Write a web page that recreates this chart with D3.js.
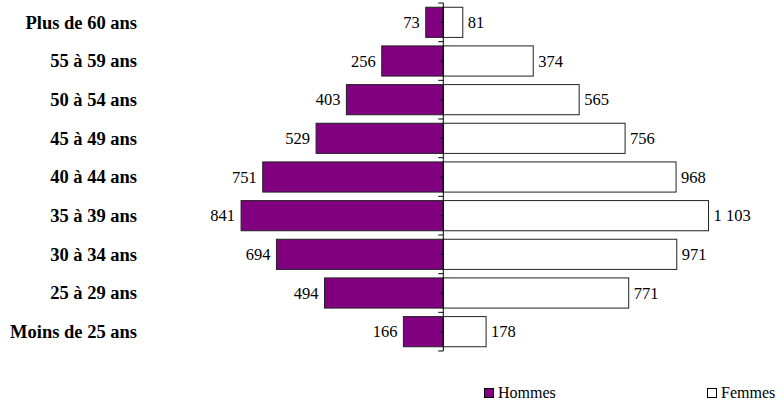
<!DOCTYPE html>
<html><head><meta charset="utf-8">
<script src="https://cdn.jsdelivr.net/npm/d3@7"></script>
<style>body{margin:0;background:#fff}svg{display:block}</style>
</head><body>
<script>
const categories = ["Plus de 60 ans","55 à 59 ans","50 à 54 ans","45 à 49 ans","40 à 44 ans","35 à 39 ans","30 à 34 ans","25 à 29 ans","Moins de 25 ans"];
const hommes = [73,256,403,529,751,841,694,494,166];
const femmes = [81,374,565,756,968,1103,971,771,178];
const seriesNames = ["Hommes","Femmes"];

const W=783,H=401;
const FONT="'Liberation Serif', 'Times New Roman', serif";
const svg=d3.select("body").append("svg").attr("width",W).attr("height",H);
const fmt=v=>d3.format(",")(v).replace(/,/g," ");
const x=d3.scaleLinear().domain([-1100,1100]).range([443.3-264.5,443.3+264.5]);
const y=d3.scaleBand().domain(categories).range([3,351]).paddingInner(0.22).paddingOuter(0.11);
const band=d3.scaleBand().domain(categories).range([3,351]);

const g=svg.append("g");
g.selectAll("rect.h").data(categories).join("rect")
 .attr("x",(d,i)=>x(-hommes[i])).attr("y",d=>y(d)).attr("width",(d,i)=>x(0)-x(-hommes[i])).attr("height",y.bandwidth())
 .attr("fill","#800080").attr("stroke","#222").attr("stroke-width",1);
g.selectAll("rect.f").data(categories).join("rect")
 .attr("x",x(0)).attr("y",d=>y(d)).attr("width",(d,i)=>x(femmes[i])-x(0)).attr("height",y.bandwidth())
 .attr("fill","#fff").attr("stroke","#222").attr("stroke-width",1);

g.selectAll("text.h").data(categories).join("text")
 .attr("x",(d,i)=>x(-hommes[i])-6).attr("y",d=>y(d)+y.bandwidth()/2).attr("dy","0.35em")
 .attr("text-anchor","end").attr("font-family",FONT).attr("font-size",16.5)
 .text((d,i)=>fmt(hommes[i]));
g.selectAll("text.f").data(categories).join("text")
 .attr("x",(d,i)=>x(femmes[i])+5).attr("y",d=>y(d)+y.bandwidth()/2).attr("dy","0.35em")
 .attr("text-anchor","start").attr("font-family",FONT).attr("font-size",16.5)
 .text((d,i)=>fmt(femmes[i]));

// axis
const ax=svg.append("g");
ax.append("line").attr("x1",x(0)).attr("x2",x(0)).attr("y1",3).attr("y2",351).attr("stroke","#000");
const bounds=categories.map(d=>band(d)).concat([351]);
ax.selectAll("line.b").data(bounds).join("line").attr("x1",x(0)-5).attr("x2",x(0)).attr("y1",d=>d).attr("y2",d=>d).attr("stroke","#000");
ax.selectAll("line.c").data(categories).join("line").attr("x1",x(0)-3).attr("x2",x(0)).attr("y1",d=>band(d)+band.bandwidth()/2).attr("y2",d=>band(d)+band.bandwidth()/2).attr("stroke","#000");

// category labels
svg.selectAll("text.cat").data(categories).join("text")
 .attr("x",137).attr("y",d=>band(d)+band.bandwidth()/2).attr("dy","0.35em").attr("text-anchor","end")
 .attr("font-family",FONT).attr("font-weight","bold").attr("font-size",18.5)
 .text(d=>d);

// legend
const leg=[{n:seriesNames[0],fill:"#800080",x:484},{n:seriesNames[1],fill:"#fff",x:707}];
const lg=svg.selectAll("g.leg").data(leg).join("g").attr("transform",d=>`translate(${d.x},388)`);
lg.append("rect").attr("x",0.5).attr("y",0.5).attr("width",9).attr("height",9).attr("fill",d=>d.fill).attr("stroke","#000");
lg.append("text").attr("x",14).attr("y",9.7).attr("font-family",FONT).attr("font-size",16).text(d=>d.n);
</script>
</body></html>
